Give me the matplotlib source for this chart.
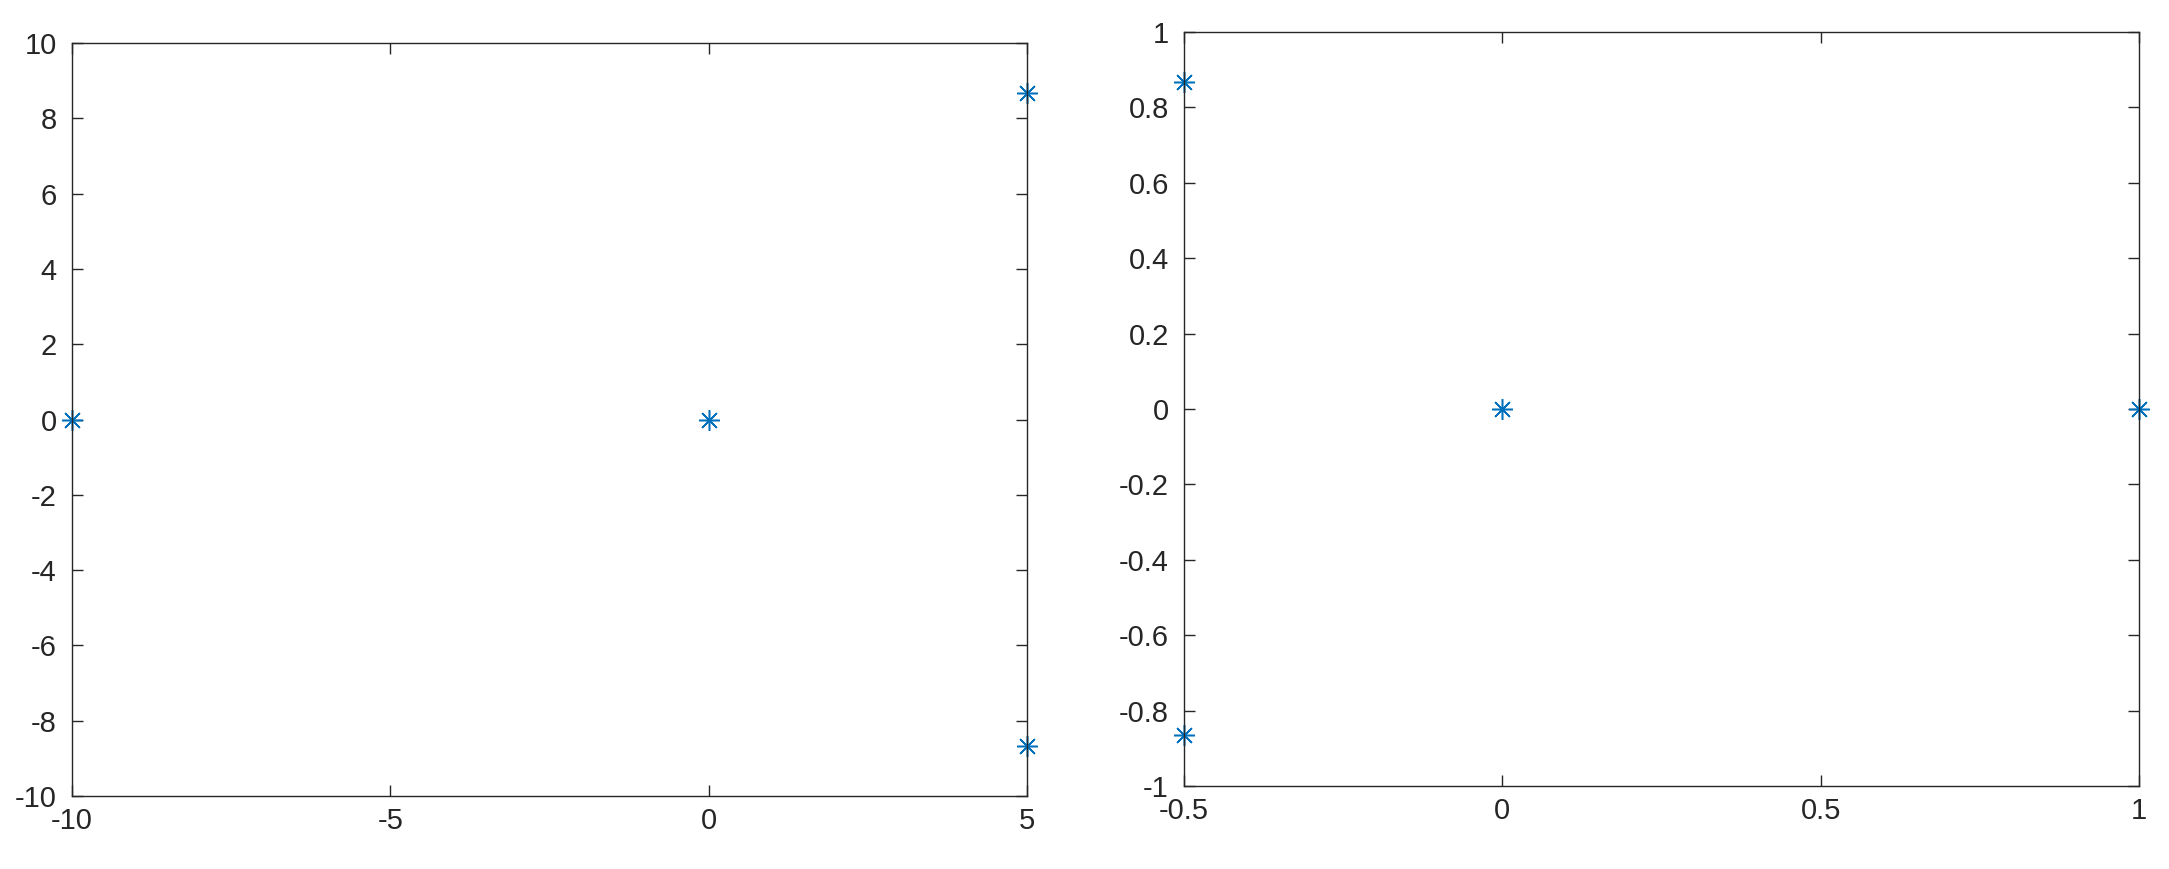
import matplotlib
matplotlib.use("Agg")
import matplotlib.pyplot as plt
import numpy as np

plt.rcParams['font.family'] = ['Liberation Sans', 'DejaVu Sans']

# left panel: points and axis ticks
left_x = [-10, 0, 5, 5]
left_y = [0, 0, 8.66, -8.66]
left_xticks = [-10, -5, 0, 5]
left_yticks = [-10, -8, -6, -4, -2, 0, 2, 4, 6, 8, 10]

# right panel
right_x = [1, -0.5, -0.5, 0]
right_y = [0, 0.866, -0.866, 0]
right_xticks = [-0.5, 0, 0.5, 1]
right_yticks = [-1, -0.8, -0.6, -0.4, -0.2, 0, 0.2, 0.4, 0.6, 0.8, 1]

blue = '#0072BD'
dark = '#262626'


def fmt(v):
    s = f"{v:g}"
    return s


def style_axes(ax, xticks, yticks):
    ax.set_xlim(xticks[0], xticks[-1])
    ax.set_ylim(yticks[0], yticks[-1])
    ax.set_xticks(xticks)
    ax.set_yticks(yticks)
    ax.set_xticklabels([fmt(v) for v in xticks])
    ax.set_yticklabels([fmt(v) for v in yticks])
    ax.tick_params(direction='in', length=8, width=1.0, colors=dark,
                   labelsize=21, top=True, right=True)
    ax.tick_params(axis='x', pad=8)
    ax.tick_params(axis='y', pad=11)
    for sp in ax.spines.values():
        sp.set_color(dark)
        sp.set_linewidth(1.0)


fig = plt.figure(figsize=(21.69, 8.69), dpi=100)
ax1 = fig.add_axes([0.0332, 0.0840, 0.4403, 0.8665])
ax2 = fig.add_axes([0.5459, 0.0955, 0.4403, 0.8677])

ax1.plot(left_x, left_y, linestyle='none', marker=(8, 2, 0), markersize=15,
         markeredgewidth=1.1, color=blue, clip_on=False)
ax2.plot(right_x, right_y, linestyle='none', marker=(8, 2, 0), markersize=15,
         markeredgewidth=1.1, color=blue, clip_on=False)

style_axes(ax1, left_xticks, left_yticks)
style_axes(ax2, right_xticks, right_yticks)

fig.savefig('out.png', dpi=100)
